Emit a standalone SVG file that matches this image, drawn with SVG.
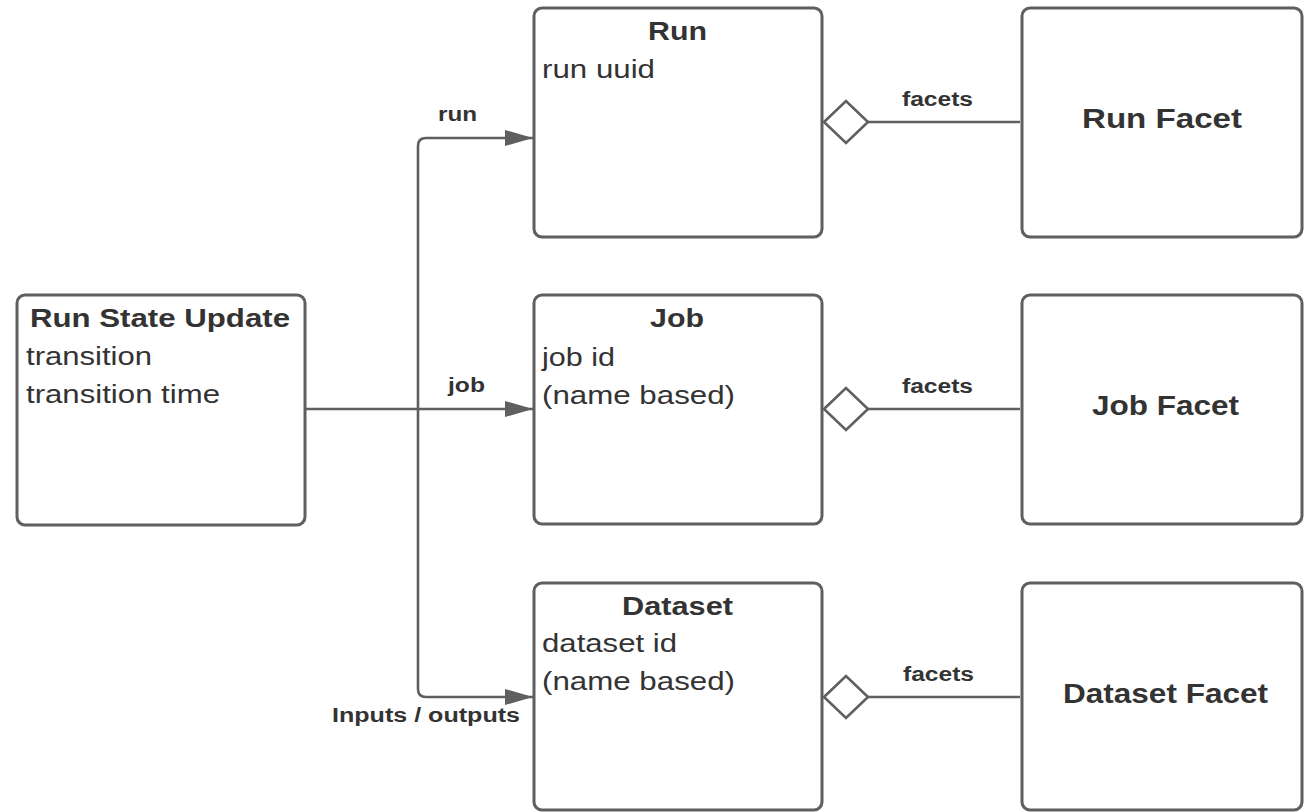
<svg xmlns="http://www.w3.org/2000/svg" width="1304" height="812" viewBox="0 0 1304 812">
<style>
.box{fill:#fff;stroke:#5f5f5f;stroke-width:3}
.ln{fill:none;stroke:#5f5f5f;stroke-width:2.6}
.t{font-family:"Liberation Sans",Arial,sans-serif;fill:#333}
.title{font-size:26px;font-weight:bold}
.ftitle{font-size:28px;font-weight:bold}
.body{font-size:26px}
.lbl{font-size:20px;font-weight:bold}
</style>
<defs>
<marker id="arrow" markerUnits="userSpaceOnUse" markerWidth="30" markerHeight="20" refX="28" refY="10" orient="auto">
<path d="M0,2 L28,10 L0,18 Z" fill="#5f5f5f"/>
</marker>
<marker id="diamond" markerUnits="userSpaceOnUse" markerWidth="50" markerHeight="48" refX="2" refY="24" orient="auto">
<path d="M2,24 L24,3 L46,24 L24,45 Z" fill="#fff" stroke="#5f5f5f" stroke-width="2.6"/>
</marker>
</defs>
<rect width="1304" height="812" fill="#fff"/>
<g id="connectors">
<path class="ln" d="M305,409 H533" marker-end="url(#arrow)"/>
<path class="ln" d="M418,409 V146 Q418,138 426,138 H533" marker-end="url(#arrow)"/>
<path class="ln" d="M418,409 V689 Q418,697 426,697 H533" marker-end="url(#arrow)"/>
<path class="ln" d="M824,122 H1020" marker-start="url(#diamond)"/>
<path class="ln" d="M824,409 H1020" marker-start="url(#diamond)"/>
<path class="ln" d="M824,697 H1020" marker-start="url(#diamond)"/>
<text class="t lbl" x="438" y="121" textLength="39" lengthAdjust="spacingAndGlyphs">run</text>
<text class="t lbl" x="448" y="392" textLength="37" lengthAdjust="spacingAndGlyphs">job</text>
<text class="t lbl" x="332" y="722" textLength="188" lengthAdjust="spacingAndGlyphs">Inputs / outputs</text>
<text class="t lbl" x="902" y="106" textLength="71" lengthAdjust="spacingAndGlyphs">facets</text>
<text class="t lbl" x="902" y="393" textLength="71" lengthAdjust="spacingAndGlyphs">facets</text>
<text class="t lbl" x="903" y="681" textLength="71" lengthAdjust="spacingAndGlyphs">facets</text>
</g>
<g id="run-state-update">
<rect class="box" x="17" y="295" width="288" height="230" rx="8"/>
<text class="t title" x="30" y="327" textLength="260" lengthAdjust="spacingAndGlyphs">Run State Update</text>
<text class="t body" x="26" y="365" textLength="126" lengthAdjust="spacingAndGlyphs">transition</text>
<text class="t body" x="26" y="403" textLength="194" lengthAdjust="spacingAndGlyphs">transition time</text>
</g>
<g id="run">
<rect class="box" x="534" y="8" width="288" height="229" rx="8"/>
<text class="t title" x="648" y="40" textLength="59" lengthAdjust="spacingAndGlyphs">Run</text>
<text class="t body" x="542" y="78" textLength="113" lengthAdjust="spacingAndGlyphs">run uuid</text>
</g>
<g id="job">
<rect class="box" x="534" y="295" width="288" height="229" rx="8"/>
<text class="t title" x="650" y="327" textLength="54" lengthAdjust="spacingAndGlyphs">Job</text>
<text class="t body" x="542" y="366" textLength="73" lengthAdjust="spacingAndGlyphs">job id</text>
<text class="t body" x="542" y="404" textLength="193" lengthAdjust="spacingAndGlyphs">(name based)</text>
</g>
<g id="dataset">
<rect class="box" x="534" y="583" width="288" height="227" rx="8"/>
<text class="t title" x="622" y="615" textLength="111" lengthAdjust="spacingAndGlyphs">Dataset</text>
<text class="t body" x="542" y="652" textLength="135" lengthAdjust="spacingAndGlyphs">dataset id</text>
<text class="t body" x="542" y="690" textLength="193" lengthAdjust="spacingAndGlyphs">(name based)</text>
</g>
<g id="run-facet">
<rect class="box" x="1022" y="8" width="280" height="229" rx="8"/>
<text class="t ftitle" x="1082" y="128" textLength="160" lengthAdjust="spacingAndGlyphs">Run Facet</text>
</g>
<g id="job-facet">
<rect class="box" x="1022" y="295" width="280" height="229" rx="8"/>
<text class="t ftitle" x="1092" y="415" textLength="147" lengthAdjust="spacingAndGlyphs">Job Facet</text>
</g>
<g id="dataset-facet">
<rect class="box" x="1022" y="583" width="280" height="227" rx="8"/>
<text class="t ftitle" x="1063" y="703" textLength="205" lengthAdjust="spacingAndGlyphs">Dataset Facet</text>
</g>
</svg>
